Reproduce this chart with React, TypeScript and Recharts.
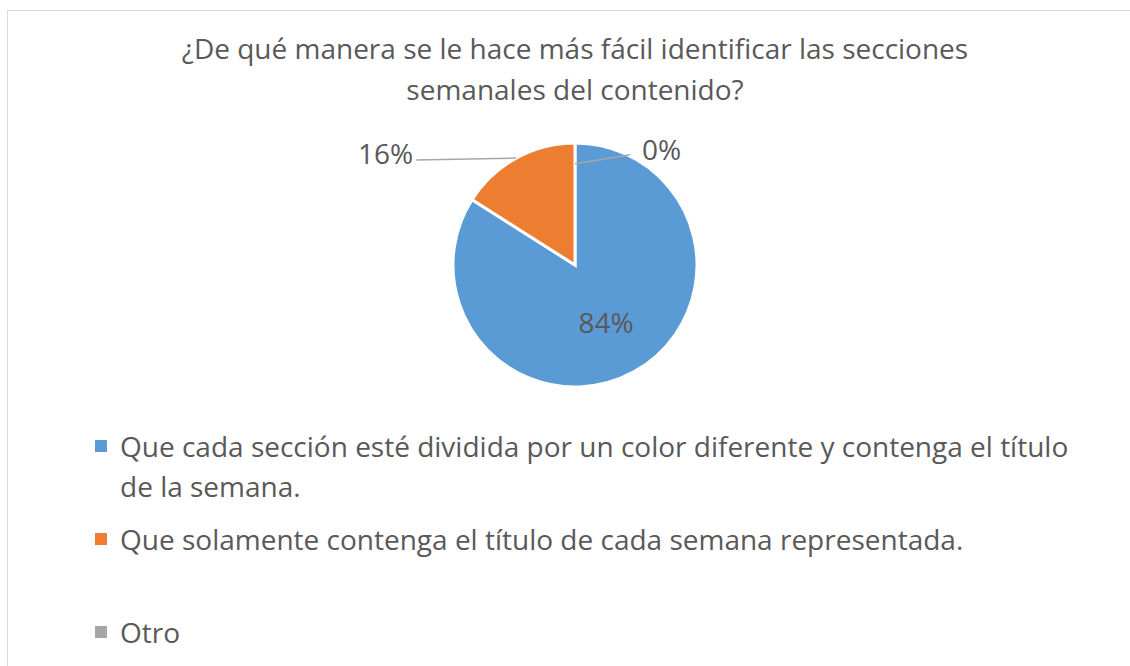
import React from 'react';
import { PieChart, Pie, Cell } from 'recharts';

const titleLines = [
  '¿De qué manera se le hace más fácil identificar las secciones',
  'semanales del contenido?',
];

const categories = [
  'Que cada sección esté dividida por un color diferente y contenga el título de la semana.',
  'Que solamente contenga el título de cada semana representada.',
  'Otro',
];

const shares = [84, 16, 0];

const colors = ['#5b9bd5', '#ed7d31', '#a5a5a5'];

const data = categories.map((name, i) => ({ name, value: shares[i] }));

const TEXT = '#595959';
const FONT = '"Open Sans", sans-serif';
const FS = 28;
const RAD = Math.PI / 180;

function polar(cx: number, cy: number, r: number, angle: number) {
  return { x: cx + r * Math.cos(-angle * RAD), y: cy + r * Math.sin(-angle * RAD) };
}

// Excel-style data labels: inside for the big slice, leader lines for the rest
function renderLabel(props: any) {
  const { cx, cy, midAngle, outerRadius, percent, index } = props;
  const text = `${Math.round(percent * 100)}%`;
  const common = { fill: TEXT, fontSize: FS, fontFamily: FONT, dominantBaseline: 'central' as const };

  if (index === 0) {
    const p = polar(cx, cy, outerRadius * 0.53, midAngle);
    return (
      <text x={p.x} y={p.y} textAnchor="middle" {...common}>
        {text}
      </text>
    );
  }
  if (index === 1) {
    const p1 = polar(cx, cy, outerRadius, midAngle);
    const p2 = { x: p1.x - 100, y: p1.y + 2 };
    return (
      <g>
        <line x1={p1.x} y1={p1.y} x2={p2.x} y2={p2.y} stroke="#a6a6a6" strokeWidth={1.5} />
        <text x={p2.x - 3} y={p2.y - 7} textAnchor="end" {...common}>
          {text}
        </text>
      </g>
    );
  }
  const p1 = polar(cx, cy, outerRadius * 0.83, midAngle);
  const p2 = { x: p1.x + 55, y: p1.y - 9 };
  return (
    <g>
      <line x1={p1.x} y1={p1.y} x2={p2.x} y2={p2.y} stroke="#a6a6a6" strokeWidth={1.5} />
      <text x={p2.x + 12} y={p2.y - 6} textAnchor="start" {...common}>
        {text}
      </text>
    </g>
  );
}

export default function App(): React.ReactElement {
  return (
    <div
      style={{
        position: 'absolute',
        left: 7,
        top: 10,
        width: 1130,
        height: 670,
        border: '1px solid #d9d9d9',
        boxSizing: 'border-box',
        background: '#fff',
        fontFamily: FONT,
        color: TEXT,
      }}
    >
      <div
        style={{
          position: 'absolute',
          top: 17,
          left: 117,
          width: 900,
          textAlign: 'center',
          fontSize: FS,
          lineHeight: '41px',
        }}
      >
        {titleLines.map((l) => (
          <div key={l}>{l}</div>
        ))}
      </div>

      <div style={{ position: 'absolute', top: 0, left: 0 }}>
        <PieChart width={1128} height={410} margin={{ top: 0, right: 0, bottom: 0, left: 0 }}>
          <Pie
            data={data}
            dataKey="value"
            nameKey="name"
            cx={567}
            cy={254}
            outerRadius={122}
            startAngle={90}
            endAngle={-270}
            stroke="#fff"
            strokeWidth={3}
            label={renderLabel}
            labelLine={false}
            isAnimationActive={false}
          >
            {data.map((entry, i) => (
              <Cell key={`cell-${i}`} fill={colors[i]} />
            ))}
          </Pie>
        </PieChart>
      </div>

      <div style={{ position: 'absolute', top: 415, left: 87, width: 1000 }}>
        {categories.map((c, i) => (
          <div key={c} style={{ display: 'flex', height: 93, fontSize: FS, lineHeight: '40px' }}>
            <div
              style={{
                width: 12,
                height: 12,
                background: colors[i],
                marginTop: 14,
                marginRight: 13,
                flexShrink: 0,
              }}
            />
            <div style={{ width: 960 }}>{c}</div>
          </div>
        ))}
      </div>
    </div>
  );
}
